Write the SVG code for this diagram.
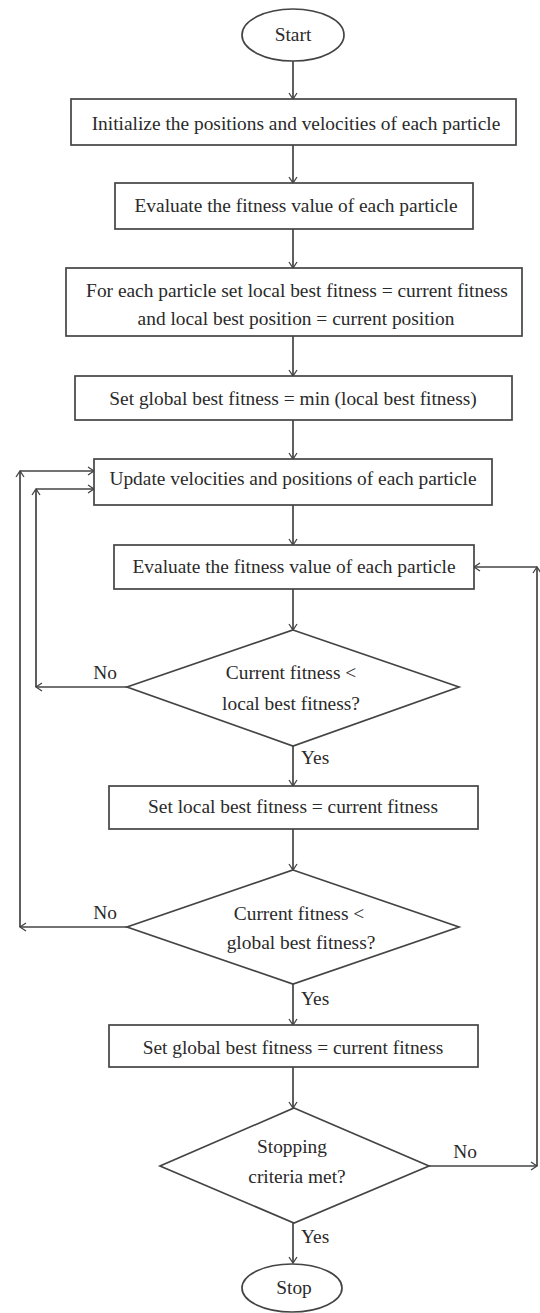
<svg xmlns="http://www.w3.org/2000/svg" width="540" height="1313" viewBox="0 0 540 1313">
<defs>
<marker id="ah" markerWidth="10" markerHeight="10" refX="8" refY="5" orient="auto" markerUnits="userSpaceOnUse">
<path d="M2,1 L8,5 L2,9" fill="none" stroke="#444" stroke-width="1.3"/>
</marker>
<style>
.s{fill:#fff;stroke:#444;stroke-width:1.7}
.t{font-family:"Liberation Serif","Times New Roman",serif;font-size:19.4px;fill:#2a2a2a;text-anchor:middle}
.l{font-family:"Liberation Serif","Times New Roman",serif;font-size:19.4px;fill:#2a2a2a}
.c{fill:none;stroke:#444;stroke-width:1.7;marker-end:url(#ah)}
</style>
</defs>
<rect width="540" height="1313" fill="#fff"/>
<g id="connectors">
<line class="c" x1="293" y1="61" x2="293" y2="99"/>
<line class="c" x1="293" y1="145" x2="293" y2="183"/>
<line class="c" x1="293" y1="229" x2="293" y2="268"/>
<line class="c" x1="293" y1="336" x2="293" y2="376"/>
<line class="c" x1="293" y1="420" x2="293" y2="459"/>
<line class="c" x1="293" y1="505" x2="293" y2="545"/>
<line class="c" x1="293" y1="589" x2="293" y2="630"/>
<line class="c" x1="293" y1="746" x2="293" y2="786"/>
<line class="c" x1="293" y1="829" x2="293" y2="870"/>
<line class="c" x1="293" y1="984" x2="293" y2="1025"/>
<line class="c" x1="293" y1="1067" x2="293" y2="1108"/>
<line class="c" x1="293" y1="1223" x2="293" y2="1263"/>
<line class="c" x1="127" y1="687" x2="36" y2="687"/>
<line class="c" x1="36" y1="687" x2="36" y2="489"/>
<line class="c" x1="36" y1="489" x2="94" y2="489"/>
<line class="c" x1="127" y1="927" x2="20" y2="927"/>
<line class="c" x1="20" y1="927" x2="20" y2="471"/>
<line class="c" x1="20" y1="471" x2="94" y2="471"/>
<line class="c" x1="429" y1="1166" x2="537" y2="1166"/>
<line class="c" x1="537" y1="1166" x2="537" y2="567"/>
<line class="c" x1="537" y1="567" x2="474" y2="567"/>
<text class="l" x="105" y="679" text-anchor="middle">No</text>
<text class="l" x="105" y="919" text-anchor="middle">No</text>
<text class="l" x="465" y="1158" text-anchor="middle">No</text>
<text class="l" x="301" y="764">Yes</text>
<text class="l" x="301" y="1005">Yes</text>
<text class="l" x="301" y="1243">Yes</text>
</g>
<g id="start">
<ellipse class="s" cx="293" cy="35" rx="51" ry="26"/>
<text class="t" x="293" y="41">Start</text>
</g>
<g id="init">
<rect class="s" x="71" y="99" width="445" height="46"/>
<text class="t" x="296" y="130">Initialize the positions and velocities of each particle</text>
</g>
<g id="evaluate1">
<rect class="s" x="115" y="183" width="358" height="46"/>
<text class="t" x="296" y="212">Evaluate the fitness value of each particle</text>
</g>
<g id="setlocal">
<rect class="s" x="66" y="268" width="456" height="68"/>
<text class="t" x="297" y="297">For each particle set local best fitness = current fitness</text>
<text class="t" x="296" y="325">and local best position = current position</text>
</g>
<g id="setglobal">
<rect class="s" x="75" y="376" width="437" height="44"/>
<text class="t" x="293" y="405">Set global best fitness = min (local best fitness)</text>
</g>
<g id="update">
<rect class="s" x="94" y="459" width="398" height="46"/>
<text class="t" x="293" y="485">Update velocities and positions of each particle</text>
</g>
<g id="evaluate2">
<rect class="s" x="114" y="545" width="360" height="44"/>
<text class="t" x="294" y="573">Evaluate the fitness value of each particle</text>
</g>
<g id="decision1">
<polygon class="s" points="293,630 459,687 293,746 127,687"/>
<text class="t" x="291" y="679">Current fitness &lt;</text>
<text class="t" x="291" y="710">local best fitness?</text>
</g>
<g id="updatelocal">
<rect class="s" x="109" y="786" width="369" height="43"/>
<text class="t" x="293" y="813">Set local best fitness = current fitness</text>
</g>
<g id="decision2">
<polygon class="s" points="293,870 459,927 293,984 127,927"/>
<text class="t" x="299" y="920">Current fitness &lt;</text>
<text class="t" x="301" y="949">global best fitness?</text>
</g>
<g id="updateglobal">
<rect class="s" x="109" y="1025" width="369" height="42"/>
<text class="t" x="293" y="1054">Set global best fitness = current fitness</text>
</g>
<g id="decision3">
<polygon class="s" points="294,1108 429,1166 294,1223 160,1166"/>
<text class="t" x="292" y="1153">Stopping</text>
<text class="t" x="297" y="1183">criteria met?</text>
</g>
<g id="stop">
<ellipse class="s" cx="292" cy="1288" rx="50" ry="24"/>
<text class="t" x="294" y="1294">Stop</text>
</g>
</svg>
